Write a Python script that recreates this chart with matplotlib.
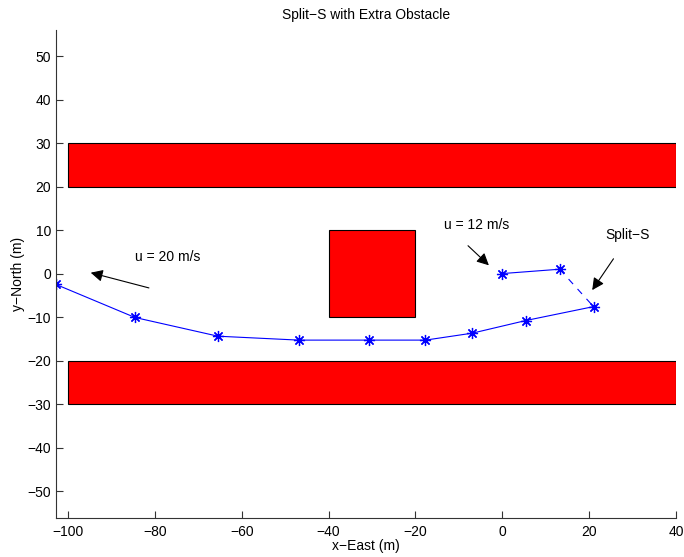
import matplotlib.pyplot as plt
from matplotlib.patches import Rectangle

plt.rcParams['font.family'] = ['Liberation Sans', 'DejaVu Sans']

# trajectory points (m)
path_x = [-102.8, -84.6, -65.5, -46.9, -30.7, -17.7, -6.9, 5.4, 21.0]
path_y = [-2.5, -10.1, -14.4, -15.3, -15.3, -15.3, -13.7, -10.8, -7.6]
start_x = [0.0, 13.2]
start_y = [0.0, 1.0]
splits_x = [13.2, 21.0]
splits_y = [1.0, -7.6]

# obstacles: (x, y, width, height)
obstacles = [(-100, 20, 140, 10), (-100, -30, 140, 10), (-40, -10, 20, 20)]

# annotations: text, text pos, arrow tail, arrow tip
notes = [
    ("u = 20 m/s", (-84.6, 3.8), (-81.4, -3.3), (-94.8, 0.2)),
    ("u = 12 m/s", (-13.5, 11.1), (-7.9, 6.4), (-3.1, 1.9)),
    ("Split\u2212S", (23.8, 8.8), (25.6, 3.4), (20.7, -3.8)),
]

fig = plt.figure(figsize=(6.84, 5.57), dpi=100)
ax = fig.add_axes([56 / 684, 39 / 557, 620 / 684, 488 / 557])

for (x0, y0, w, h) in obstacles:
    ax.add_patch(Rectangle((x0, y0), w, h, facecolor='red', edgecolor='black', lw=0.8))

asterisk = (8, 2, 0)
ax.plot(path_x, path_y, color='blue', lw=0.8, marker=asterisk, ms=8, mew=0.9)
ax.plot(start_x, start_y, color='blue', lw=0.8, marker=asterisk, ms=8, mew=0.9)
ax.plot(splits_x, splits_y, color='blue', lw=0.8, ls=(0, (6, 6)))

for txt, tpos, tail, tip in notes:
    ax.text(tpos[0], tpos[1], txt, fontsize=10, va='center', ha='left')
    ax.annotate('', xy=tip, xytext=tail,
                arrowprops=dict(arrowstyle='-|>', color='black', lw=0.8,
                                mutation_scale=18, shrinkA=0, shrinkB=0))

ax.set_xlim(-102.8, 40)
ax.set_ylim(-56.2, 56)
ax.set_xticks(range(-100, 41, 20))
ax.set_yticks(range(-50, 51, 10))
ax.spines['top'].set_visible(False)
ax.spines['right'].set_visible(False)
for s in ['left', 'bottom']:
    ax.spines[s].set_color('#333333')
    ax.spines[s].set_linewidth(0.8)
ax.tick_params(direction='in', length=5, width=0.8, labelsize=10, color='#333333')
ax.tick_params(axis='x', pad=5)

ax.set_title("Split\u2212S with Extra Obstacle", fontsize=10, pad=8)
ax.set_xlabel("x\u2212East (m)", fontsize=10, labelpad=0)
ax.set_ylabel("y\u2212North (m)", fontsize=10, labelpad=2)

fig.savefig("out.png", dpi=100)
